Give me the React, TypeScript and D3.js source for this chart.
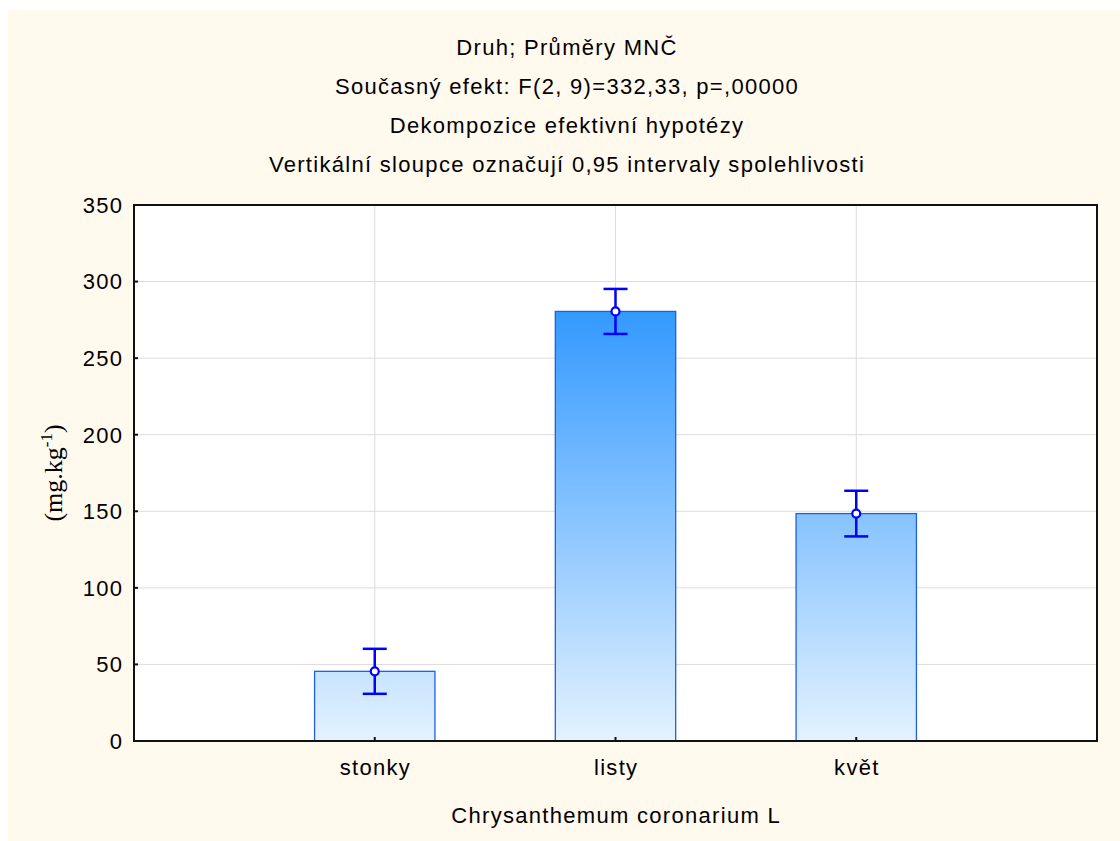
import React from "react";
import * as d3 from "d3";

// Category means with 0.95 confidence limits
const categories = ["stonky", "listy", "květ"];
const means = [45.5, 280.5, 148.5];
const ciLow = [30.8, 265.8, 133.6];
const ciHigh = [60.2, 295.2, 163.4];
const yTicks = [0, 50, 100, 150, 200, 250, 300, 350];

const titleLines = [
  "Druh; Průměry MNČ",
  "Současný efekt: F(2, 9)=332,33, p=,00000",
  "Dekompozice efektivní hypotézy",
  "Vertikální sloupce označují 0,95 intervaly spolehlivosti",
];
const xAxisTitle = "Chrysanthemum coronarium L";

const W = 1120;
const H = 841;
const plot = { left: 134, right: 1097, top: 205, bottom: 741 };
const FONT = "'Liberation Sans', Arial, sans-serif";
const FS = 22;
const LS = 1.3;

export default function App() {
  const x = d3
    .scalePoint<string>()
    .domain(categories)
    .range([plot.left, plot.right])
    .padding(1);
  const y = d3.scaleLinear().domain([0, 350]).range([plot.bottom, plot.top]);
  const barW = x.step() * 0.5;
  const capW = 24;
  const maxMean = d3.max(means) as number;

  return (
    <svg
      width={W}
      height={H}
      style={{ position: "absolute", left: 0, top: 0, display: "block" }}
    >
      <defs>
        <linearGradient
          id="barFill"
          gradientUnits="userSpaceOnUse"
          x1={0}
          x2={0}
          y1={y(0)}
          y2={y(maxMean)}
        >
          <stop offset="0" stopColor="#E4F2FF" />
          <stop offset="1" stopColor="#3399FF" />
        </linearGradient>
      </defs>
      <rect x={0} y={0} width={W} height={H} fill="#ffffff" />
      <rect x={8} y={10} width={W - 8} height={H - 10} fill="#FFF9EE" />

      {/* titles */}
      {titleLines.map((t, i) => (
        <text
          key={i}
          x={567}
          y={55 + i * 39}
          textAnchor="middle"
          fontFamily={FONT}
          fontSize={FS}
          letterSpacing={LS}
          fill="#000"
        >
          {t}
        </text>
      ))}

      {/* plot area */}
      <rect
        x={plot.left}
        y={plot.top}
        width={plot.right - plot.left}
        height={plot.bottom - plot.top}
        fill="#ffffff"
      />

      {/* grid */}
      {yTicks.map((t) => (
        <line
          key={"gy" + t}
          x1={plot.left}
          x2={plot.right}
          y1={y(t)}
          y2={y(t)}
          stroke="#DCDCDC"
          strokeWidth={1}
        />
      ))}
      {categories.map((c) => (
        <line
          key={"gx" + c}
          x1={x(c)}
          x2={x(c)}
          y1={plot.top}
          y2={plot.bottom}
          stroke="#DCDCDC"
          strokeWidth={1}
        />
      ))}

      {/* bars */}
      {categories.map((c, i) => (
        <rect
          key={"b" + c}
          x={(x(c) as number) - barW / 2}
          y={y(means[i])}
          width={barW}
          height={y(0) - y(means[i])}
          fill="url(#barFill)"
          stroke="#1E5FE0"
          strokeWidth={1.3}
        />
      ))}

      {/* confidence intervals */}
      {categories.map((c, i) => {
        const cx = x(c) as number;
        return (
          <g key={"e" + c} stroke="#0000FF" strokeWidth={2.5} fill="none">
            <line x1={cx} x2={cx} y1={y(ciHigh[i])} y2={y(ciLow[i])} />
            <line x1={cx - capW / 2} x2={cx + capW / 2} y1={y(ciHigh[i])} y2={y(ciHigh[i])} />
            <line x1={cx - capW / 2} x2={cx + capW / 2} y1={y(ciLow[i])} y2={y(ciLow[i])} />
            <circle cx={cx} cy={y(means[i])} r={4} fill="#ffffff" strokeWidth={2.2} />
          </g>
        );
      })}

      {/* frame */}
      <rect
        x={plot.left}
        y={plot.top}
        width={plot.right - plot.left}
        height={plot.bottom - plot.top}
        fill="none"
        stroke="#111"
        strokeWidth={2}
      />

      {/* y ticks and labels */}
      {yTicks.map((t) => (
        <g key={"yt" + t}>
          <line x1={plot.left} x2={plot.left + 4} y1={y(t)} y2={y(t)} stroke="#111" strokeWidth={2} />
          <text
            x={122 + LS}
            y={y(t)}
            dy="0.36em"
            textAnchor="end"
            fontFamily={FONT}
            fontSize={FS}
            letterSpacing={LS}
            fill="#000"
          >
            {t}
          </text>
        </g>
      ))}

      {/* x ticks and labels */}
      {categories.map((c) => (
        <g key={"xt" + c}>
          <line
            x1={x(c)}
            x2={x(c)}
            y1={plot.bottom}
            y2={plot.bottom - 4}
            stroke="#111"
            strokeWidth={2}
          />
          <text
            x={(x(c) as number) + LS / 2}
            y={775}
            textAnchor="middle"
            fontFamily={FONT}
            fontSize={FS}
            letterSpacing={LS}
            fill="#000"
          >
            {c}
          </text>
        </g>
      ))}

      {/* axis titles */}
      <text
        x={(plot.left + plot.right) / 2 + LS / 2}
        y={823}
        textAnchor="middle"
        fontFamily={FONT}
        fontSize={FS}
        letterSpacing={LS}
        fill="#000"
      >
        {xAxisTitle}
      </text>
      <text
        transform={`translate(62, ${(plot.top + plot.bottom) / 2}) rotate(-90)`}
        textAnchor="middle"
        fontFamily="'Liberation Serif', 'Times New Roman', serif"
        fontSize={26}
        fill="#000"
      >
        (mg.kg
        <tspan dy={-10} fontSize={17}>
          -1
        </tspan>
        <tspan dy={10}>)</tspan>
      </text>
    </svg>
  );
}
